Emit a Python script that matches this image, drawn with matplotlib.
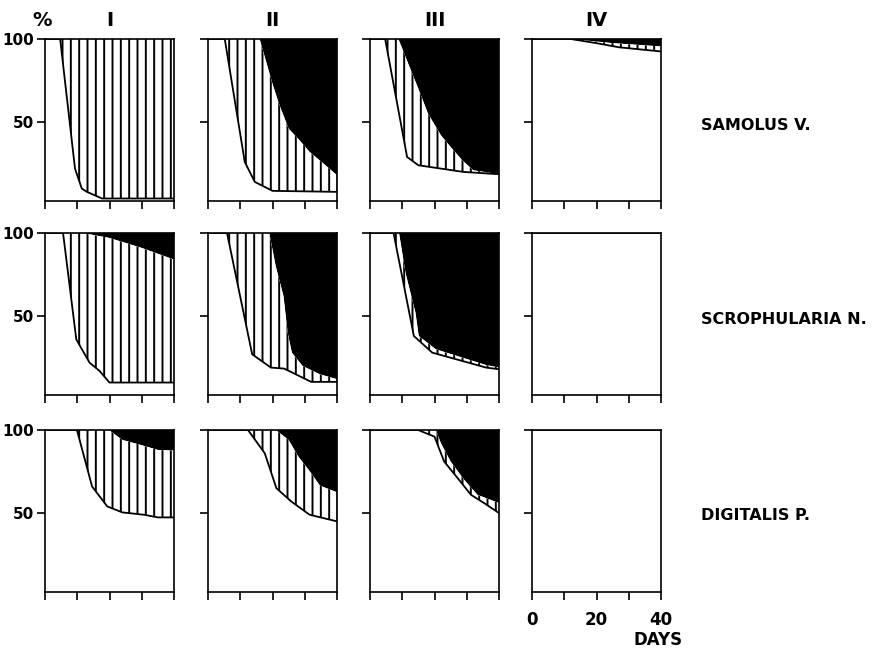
import matplotlib.pyplot as plt

plt.rcParams['font.family'] = ['DejaVu Sans']
plt.rcParams['hatch.linewidth'] = 1.4

day_ticks = [0, 10, 20, 30, 40]
col_names = ["I", "II", "III", "IV"]
row_names = ["SAMOLUS V.", "SCROPHULARIA N.", "DIGITALIS P."]

# each panel: lower curve (white below) and upper curve (black above), % vs days
# Samolus V.
sam1_lo_x = [0, 4.7, 8.3, 9.3, 11.4, 13, 17.7, 40]
sam1_lo_y = [100, 100, 39, 22, 10, 8, 4, 4]
sam1_up_x = [0, 40]
sam1_up_y = [100, 100]

sam2_lo_x = [0, 5.2, 11.4, 14.5, 20, 40]
sam2_lo_y = [100, 100, 26, 14, 8.6, 8]
sam2_up_x = [0, 16, 20, 22, 25, 28.4, 31.5, 34.6, 40]
sam2_up_y = [100, 100, 73, 61, 46, 39, 32, 27, 18]

sam3_lo_x = [0, 4.7, 11.5, 15, 29, 40]
sam3_lo_y = [100, 100, 29, 24, 20, 18.6]
sam3_up_x = [0, 8.8, 12.5, 15, 18, 22, 25, 28.6, 32, 40]
sam3_up_y = [100, 100, 82, 70, 55, 42, 35, 27, 21, 18.6]

sam4_lo_x = [0, 12, 20, 27, 40]
sam4_lo_y = [100, 100, 97.5, 95, 92.5]
sam4_up_x = [0, 12, 25, 40]
sam4_up_y = [100, 100, 97.5, 95.5]

# Scrophularia N.
scr1_lo_x = [0, 5.6, 9.7, 13.8, 16.9, 20, 40]
scr1_lo_y = [100, 100, 36, 22, 17, 10, 10]
scr1_up_x = [0, 11.7, 20, 30, 40]
scr1_up_y = [100, 100, 97, 91, 84]

scr2_lo_x = [0, 5.9, 13.7, 19.5, 23.6, 32, 40]
scr2_lo_y = [100, 100, 27, 19, 18.4, 10.4, 10.4]
scr2_up_x = [0, 19, 21, 23.4, 24.7, 26, 29.3, 34.6, 40]
scr2_up_y = [100, 100, 80, 62, 40, 28, 20, 15, 12]

scr3_lo_x = [0, 7.3, 13.6, 19.3, 36, 40]
scr3_lo_y = [100, 100, 38, 28, 19, 18]
scr3_up_x = [0, 9, 11, 14.1, 15.1, 20.4, 36, 40]
scr3_up_y = [100, 100, 76, 52, 38, 30, 20.5, 19]

scr4_lo_x = [0, 40]
scr4_lo_y = [100, 100]
scr4_up_x = [0, 40]
scr4_up_y = [100, 100]

# Digitalis P.
dig1_lo_x = [0, 9.9, 14.6, 19.3, 24, 30.7, 35, 40]
dig1_lo_y = [100, 100, 66, 54, 50.4, 49, 47.4, 47.4]
dig1_up_x = [0, 19.8, 24, 29.7, 35, 40]
dig1_up_y = [100, 100, 94, 91, 88, 87.6]

dig2_lo_x = [0, 12.4, 17.6, 21.2, 25.8, 31.5, 40]
dig2_lo_y = [100, 100, 86, 65, 57, 49, 45]
dig2_up_x = [0, 21, 25, 28, 31.6, 34.7, 40]
dig2_up_y = [100, 100, 94, 84, 75, 66.5, 62.5]

dig3_lo_x = [0, 14.9, 20, 23, 27.2, 31.3, 35.4, 40]
dig3_lo_y = [100, 100, 96, 81, 71, 61, 56, 50]
dig3_up_x = [0, 20.4, 22, 25, 29.2, 33.3, 40]
dig3_up_y = [100, 100, 92, 81, 70, 61, 56]

dig4_lo_x = [0, 40]
dig4_lo_y = [100, 100]
dig4_up_x = [0, 40]
dig4_up_y = [100, 100]

panels = [
    [(sam1_lo_x, sam1_lo_y, sam1_up_x, sam1_up_y), (sam2_lo_x, sam2_lo_y, sam2_up_x, sam2_up_y),
     (sam3_lo_x, sam3_lo_y, sam3_up_x, sam3_up_y), (sam4_lo_x, sam4_lo_y, sam4_up_x, sam4_up_y)],
    [(scr1_lo_x, scr1_lo_y, scr1_up_x, scr1_up_y), (scr2_lo_x, scr2_lo_y, scr2_up_x, scr2_up_y),
     (scr3_lo_x, scr3_lo_y, scr3_up_x, scr3_up_y), (scr4_lo_x, scr4_lo_y, scr4_up_x, scr4_up_y)],
    [(dig1_lo_x, dig1_lo_y, dig1_up_x, dig1_up_y), (dig2_lo_x, dig2_lo_y, dig2_up_x, dig2_up_y),
     (dig3_lo_x, dig3_lo_y, dig3_up_x, dig3_up_y), (dig4_lo_x, dig4_lo_y, dig4_up_x, dig4_up_y)],
]

W, H = 877, 655
fig = plt.figure(figsize=(W / 100, H / 100), dpi=100)

col_left = [45, 208, 370, 532]
row_top = [39, 233, 430]
pw, ph = 129, 162

bold = dict(fontweight='bold')

for r in range(3):
    for c in range(4):
        ax = fig.add_axes([col_left[c] / W, 1 - (row_top[r] + ph) / H, pw / W, ph / H])
        lo_x, lo_y, up_x, up_y = panels[r][c]
        # black part above the upper curve
        ax.fill(up_x + [40, 0], up_y + [100, 100], color='black', lw=0)
        # hatched part between the two curves
        ax.fill(lo_x + up_x[::-1], lo_y + up_y[::-1], facecolor='white',
                edgecolor='black', hatch='||', lw=0)
        ax.plot(lo_x, lo_y, color='black', lw=1.3)

        ax.set_xlim(0, 40)
        ax.set_ylim(2.5, 100)
        ax.set_xticks(day_ticks)
        ax.set_yticks([50, 100])
        ax.tick_params(direction='out', length=6, width=1.2, labelsize=11)
        for s in ax.spines.values():
            s.set_linewidth(1.2)
        if c == 0:
            ax.set_yticklabels(["50", "100"], **bold)
            ax.tick_params(axis='y', pad=2)
        else:
            ax.set_yticklabels([])
        if r == 2 and c == 3:
            ax.set_xticklabels(["0", "", "20", "", "40"], fontsize=12, **bold)
            ax.tick_params(axis='x', pad=8)
        else:
            ax.set_xticklabels([])

for c in range(4):
    fig.text((col_left[c] + pw / 2) / W, 1 - 21 / H, col_names[c], ha='center', va='center',
             fontsize=14, **bold)
fig.text(42 / W, 1 - 20 / H, "%", ha='center', va='center', fontsize=14, **bold)

for r in range(3):
    fig.text(701 / W, 1 - (row_top[r] + 86) / H, row_names[r], ha='left', va='center',
             fontsize=11.5, **bold)

fig.text(658 / W, 1 - 640 / H, "DAYS", ha='center', va='center', fontsize=12, **bold)

fig.savefig("out.png", dpi=100)
